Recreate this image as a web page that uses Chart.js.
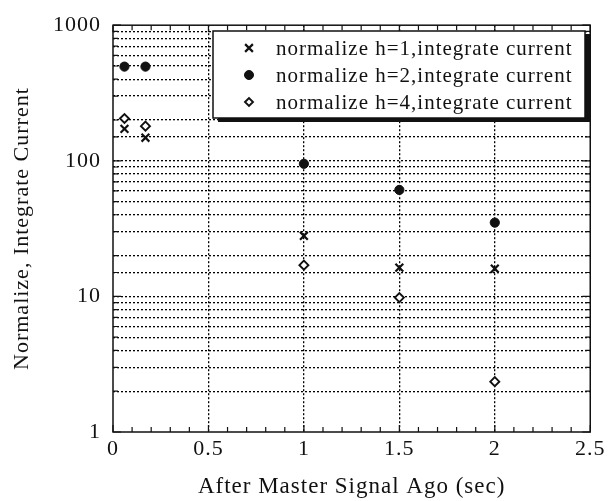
<!DOCTYPE html>
<html>
<head>
<meta charset="utf-8">
<script src="https://cdn.jsdelivr.net/npm/chart.js@4"></script>
<style>
  html, body { margin: 0; background: #fff; }
</style>
</head>
<body>
<canvas id="grafico" width="608" height="501"></canvas>
<script>
var tempos = [0.06, 0.17, 1, 1.5, 2];
var correnteH1 = [172, 148, 28, 16.3, 16];
var correnteH2 = [495, 495, 95, 61, 35];
var correnteH4 = [205, 180, 17, 9.8, 2.35];
var rotulos = [
  'normalize h=1,integrate current',
  'normalize h=2,integrate current',
  'normalize h=4,integrate current'
];
var ticksY = [1, 10, 100, 1000];
var ticksX = [0, 0.5, 1, 1.5, 2, 2.5];

var fonte = 'Liberation Serif';
var preto = '#111';

function pontos(ys) {
  return tempos.map(function (t, i) { return { x: t, y: ys[i] }; });
}

function ehMeio(v) {
  return Math.abs(v * 2 - Math.round(v * 2)) < 1e-6;
}

// texto do scan parece esticado, entao um pouco de espaco entre letras
var espaco = {
  id: 'espaco',
  beforeDraw: function (chart) { chart.ctx.letterSpacing = '1px'; }
};

// moldura com ticks para dentro + legenda com sombra
var moldura = {
  id: 'moldura',
  afterDraw: function (chart) {
    var ctx = chart.ctx;
    var a = chart.chartArea;
    var sx = chart.scales.x, sy = chart.scales.y;
    ctx.save();
    ctx.strokeStyle = preto;
    ctx.lineWidth = 1.5;
    ctx.strokeRect(a.left, a.top, a.right - a.left, a.bottom - a.top);

    ctx.lineWidth = 1.2;
    ctx.beginPath();
    sx.ticks.forEach(function (t) {
      var px = sx.getPixelForValue(t.value);
      var len = ehMeio(t.value) ? 7 : 5;
      ctx.moveTo(px, a.bottom); ctx.lineTo(px, a.bottom - len);
      ctx.moveTo(px, a.top); ctx.lineTo(px, a.top + len);
    });
    sy.ticks.forEach(function (t) {
      var py = sy.getPixelForValue(t.value);
      var len = ticksY.indexOf(t.value) !== -1 ? 8 : 5;
      ctx.moveTo(a.left, py); ctx.lineTo(a.left + len, py);
      ctx.moveTo(a.right, py); ctx.lineTo(a.right - len, py);
    });
    ctx.stroke();

    // legenda
    var lx = 213, ly = 31, lw = 372, lh = 87;
    ctx.fillStyle = preto;
    ctx.fillRect(lx + 5, ly + 3, lw + 1, lh + 1);
    ctx.fillStyle = '#fff';
    ctx.fillRect(lx, ly, lw, lh);
    ctx.lineWidth = 1.5;
    ctx.strokeStyle = preto;
    ctx.strokeRect(lx, ly, lw, lh);

    ctx.font = '21px "' + fonte + '"';
    ctx.letterSpacing = '1px';
    ctx.textBaseline = 'middle';
    ctx.textAlign = 'left';
    chart.data.datasets.forEach(function (ds, i) {
      var cy = ly + 17 + i * 27;
      ctx.fillStyle = ds.backgroundColor;
      ctx.strokeStyle = preto;
      ctx.lineWidth = ds.borderWidth;
      Chart.helpers.drawPoint(ctx, {
        pointStyle: ds.pointStyle,
        radius: ds.legendRadius,
        borderWidth: ds.borderWidth
      }, 249, cy);
      ctx.fillStyle = preto;
      ctx.fillText(ds.label, 276, cy + 1);
    });
    ctx.restore();
  }
};

new Chart(document.getElementById('grafico'), {
  type: 'scatter',
  data: {
    datasets: [
      { label: rotulos[0], data: pontos(correnteH1), pointStyle: 'crossRot', pointRadius: 5.5, legendRadius: 5.5,
        borderColor: preto, backgroundColor: preto, borderWidth: 2.2 },
      { label: rotulos[1], data: pontos(correnteH2), pointStyle: 'circle', pointRadius: 4.6, legendRadius: 4.5,
        borderColor: preto, backgroundColor: preto, borderWidth: 1 },
      { label: rotulos[2], data: pontos(correnteH4), pointStyle: 'rectRot', pointRadius: 4.5, legendRadius: 4,
        borderColor: preto, backgroundColor: '#fff', borderWidth: 1.9 }
    ]
  },
  options: {
    responsive: false,
    animation: false,
    layout: { padding: { top: 25, right: 17, left: 0, bottom: 0 } },
    plugins: { legend: { display: false }, tooltip: { enabled: false } },
    scales: {
      x: {
        type: 'linear',
        min: 0,
        max: 2.5,
        afterFit: function (s) { s.height = 69; },
        ticks: {
          stepSize: 0.1,
          autoSkip: false,
          maxRotation: 0,
          padding: 4,
          color: preto,
          font: { family: fonte, size: 22 },
          callback: function (v) {
            return ehMeio(v) && ticksX.indexOf(Math.round(v * 2) / 2) !== -1 ? String(Math.round(v * 2) / 2) : '';
          }
        },
        grid: {
          drawTicks: false,
          lineWidth: 1.3,
          color: function (c) {
            var v = c.tick && c.tick.value;
            return (ehMeio(v) && v > 0.01 && v < 2.49) ? '#000' : 'rgba(0,0,0,0)';
          }
        },
        border: { display: false, dash: [2, 2] },
        title: {
          display: true,
          text: 'After Master Signal Ago (sec)',
          color: preto,
          font: { family: fonte, size: 23 },
          padding: { top: 15, bottom: 0 }
        }
      },
      y: {
        type: 'logarithmic',
        min: 1,
        max: 1000,
        afterFit: function (s) { s.width = 113; },
        ticks: {
          autoSkip: false,
          padding: 12,
          color: preto,
          font: { family: fonte, size: 22 },
          callback: function (v) {
            return ticksY.indexOf(v) !== -1 ? String(v) : '';
          }
        },
        grid: {
          drawTicks: false,
          lineWidth: 1.3,
          color: function (c) {
            var v = c.tick && c.tick.value;
            return (v > 1.01 && v < 999) ? '#000' : 'rgba(0,0,0,0)';
          }
        },
        border: { display: false, dash: [2, 2] },
        title: {
          display: true,
          text: 'Normalize, Integrate Current',
          color: preto,
          font: { family: fonte, size: 22 },
          padding: { top: 9, bottom: 0 }
        }
      }
    }
  },
  plugins: [espaco, moldura]
});
</script>
</body>
</html>
